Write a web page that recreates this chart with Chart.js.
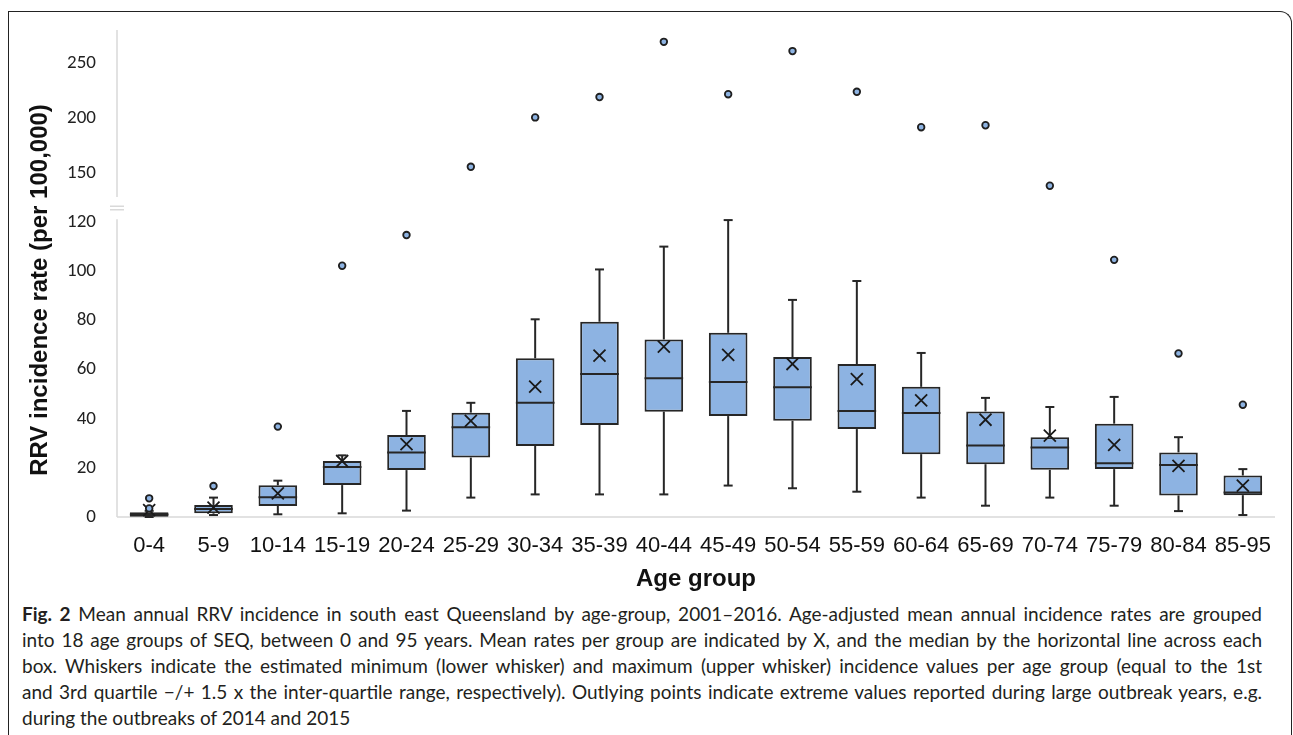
<!DOCTYPE html>
<html>
<head>
<meta charset="utf-8">
<script src="https://cdn.jsdelivr.net/npm/chart.js@4.4.1/dist/chart.umd.min.js"></script>
<style>
  html, body { margin: 0; padding: 0; background: #fff; }
  body { width: 1293px; height: 735px; position: relative; overflow: hidden; }
  #frame {
    position: absolute; left: 8px; top: 11px; width: 1284px; height: 760px;
    border: 1.5px solid #222; border-bottom: none; border-top-right-radius: 12px;
    box-sizing: border-box;
  }
  #wrap { position: absolute; left: 0; top: 0; width: 1293px; height: 600px; }
  #caption {
    position: absolute; left: 22px; top: 601px; width: 1240px;
    font-family: Lato, "Open Sans", sans-serif; font-size: 19px; line-height: 26px; color: #231f20;
  }
  #caption div { text-align: justify; text-align-last: justify; }
  #caption div.last { text-align-last: left; }
</style>
</head>
<body>
<div id="frame"></div>
<div id="wrap"><canvas id="boxChart"></canvas></div>
<div id="caption">
  <div><b>Fig. 2</b> Mean annual RRV incidence in south east Queensland by age-group, 2001–2016. Age-adjusted mean annual incidence rates are grouped</div>
  <div>into 18 age groups of SEQ, between 0 and 95 years. Mean rates per group are indicated by X, and the median by the horizontal line across each</div>
  <div>box. Whiskers indicate the estimated minimum (lower whisker) and maximum (upper whisker) incidence values per age group (equal to the 1st</div>
  <div>and 3rd quartile −/+ 1.5 x the inter-quartile range, respectively). Outlying points indicate extreme values reported during large outbreak years, e.g.</div>
  <div class="last">during the outbreaks of 2014 and 2015</div>
</div>
<script>
const ageGroups = ['0-4', '5-9', '10-14', '15-19', '20-24', '25-29', '30-34', '35-39', '40-44',
  '45-49', '50-54', '55-59', '60-64', '65-69', '70-74', '75-79', '80-84', '85-95'];
const q1 = [0.1, 1.5, 4.5, 13.0, 19.1, 24.2, 28.9, 37.5, 42.9, 41.1, 39.2, 35.8, 25.6, 21.5, 19.2, 19.5, 8.8, 8.9];
const q3 = [1.9, 4.9, 12.9, 22.8, 33.4, 42.5, 64.6, 79.5, 72.3, 75.0, 65.1, 62.3, 53.0, 43.0, 32.5, 38.0, 26.3, 16.9];
const medians = [1.0, 3.3, 8.0, 20.4, 26.3, 36.5, 46.5, 58.2, 56.5, 55.0, 52.8, 43.2, 42.3, 29.1, 28.3, 21.9, 21.2, 10.0];
const means = [2.8, 3.8, 9.6, 22.8, 29.7, 39.1, 53.1, 65.7, 69.4, 66.0, 62.3, 56.1, 47.5, 39.6, 33.1, 29.4, 20.8, 12.8];
const whiskerLow = [0, 0.8, 1.1, 1.5, 2.6, 7.9, 9.2, 9.2, 9.2, 12.8, 11.7, 10.3, 7.9, 4.6, 7.9, 4.6, 2.4, 0.8];
const whiskerHigh = [2.5, 7.9, 14.8, 25.1, 43.2, 46.5, 80.5, 100.8, 110.1, 120.9, 88.4, 96.1, 66.8, 48.5, 44.8, 48.9, 32.5, 19.5];
const outlierGroups = ['0-4', '0-4', '5-9', '10-14', '15-19', '20-24', '25-29', '30-34', '35-39', '40-44',
  '45-49', '50-54', '55-59', '60-64', '65-69', '70-74', '75-79', '80-84', '85-95'];
const outlierValues = [7.6, 3.5, 12.6, 36.8, 102.3, 114.8, 156, 200.9, 219.4, 269.6, 222, 261.2, 224.2, 192, 193.8, 138.8, 104.7, 66.6, 45.7];
const yTickValues = [0, 20, 40, 60, 80, 100, 120, 150, 200, 250];

// broken y axis: linear up to 120, squeezed above the break
const BREAK_AT = 125;
function toAxis(v) {
  return v <= BREAK_AT ? v : 139.9 + (v - 150) * 0.448;
}

const BOX_FILL = '#8DB3E2';
const INK = '#262626';

const boxExtras = {
  id: 'boxExtras',
  afterDatasetDraw(chart, args) {
    if (args.index !== 0) return;
    const { ctx, scales: { x, y } } = chart;
    const meta = chart.getDatasetMeta(0);
    ctx.save();
    ctx.strokeStyle = INK;
    ctx.lineWidth = 2;
    meta.data.forEach((bar, i) => {
      const cx = x.getPixelForValue(i);
      const half = bar.width / 2;
      const seg = (x1, y1, x2, y2) => { ctx.beginPath(); ctx.moveTo(x1, y1); ctx.lineTo(x2, y2); ctx.stroke(); };
      const yMed = y.getPixelForValue(toAxis(medians[i]));
      seg(cx - half, yMed, cx + half, yMed);
      const yQ3 = y.getPixelForValue(toAxis(q3[i]));
      const yQ1 = y.getPixelForValue(toAxis(q1[i]));
      const yHi = y.getPixelForValue(toAxis(whiskerHigh[i]));
      const yLo = y.getPixelForValue(toAxis(whiskerLow[i]));
      if (yHi < yQ3) { seg(cx, yQ3, cx, yHi); seg(cx - 4.5, yHi, cx + 4.5, yHi); }
      if (yLo > yQ1) { seg(cx, yQ1, cx, yLo); seg(cx - 4.5, yLo, cx + 4.5, yLo); }
    });
    ctx.restore();
  }
};

// axis lines with the break mark, plus both axis titles
const brokenAxis = {
  id: 'brokenAxis',
  beforeDatasetsDraw(chart) {
    const { ctx, chartArea, scales: { y } } = chart;
    const ax = chartArea.left;
    ctx.save();
    ctx.strokeStyle = '#d9d9d9';
    ctx.lineWidth = 1.5;
    ctx.beginPath();
    ctx.moveTo(ax, chartArea.top);
    ctx.lineTo(ax, y.getPixelForValue(130.3));
    ctx.moveTo(ax, y.getPixelForValue(121.2));
    ctx.lineTo(ax, chartArea.bottom);
    ctx.moveTo(ax, chartArea.bottom);
    ctx.lineTo(chartArea.right, chartArea.bottom);
    const mid = y.getPixelForValue(125.8);
    ctx.moveTo(ax - 7, mid - 1.8); ctx.lineTo(ax + 7, mid - 1.8);
    ctx.moveTo(ax - 7, mid + 1.8); ctx.lineTo(ax + 7, mid + 1.8);
    ctx.stroke();

    ctx.fillStyle = '#111';
    ctx.font = 'bold 24px "Liberation Sans", Arial, sans-serif';
    ctx.textAlign = 'center';
    ctx.textBaseline = 'middle';
    ctx.fillText('Age group', (chartArea.left + chartArea.right) / 2, 579);
    ctx.translate(40, 290);
    ctx.rotate(-Math.PI / 2);
    ctx.fillText('RRV incidence rate (per 100,000)', 0, 0);
    ctx.restore();
  }
};

new Chart(document.getElementById('boxChart'), {
  data: {
    labels: ageGroups,
    datasets: [
      {
        type: 'bar',
        label: 'IQR',
        data: ageGroups.map((g, i) => [q1[i], q3[i]]),
        backgroundColor: BOX_FILL,
        borderColor: INK,
        borderWidth: 2,
        borderSkipped: false,
        barPercentage: 0.6,
        categoryPercentage: 1,
        order: 3
      },
      {
        type: 'line',
        label: 'Mean',
        data: means.map(toAxis),
        showLine: false,
        pointStyle: 'crossRot',
        pointRadius: 8.5,
        pointBorderWidth: 1.8,
        pointBorderColor: '#1a1a1a',
        order: 1
      },
      {
        type: 'line',
        label: 'Outliers',
        data: outlierGroups.map((g, i) => ({ x: g, y: toAxis(outlierValues[i]) })),
        showLine: false,
        pointStyle: 'circle',
        pointRadius: 3.3,
        pointBorderWidth: 1.8,
        pointBackgroundColor: BOX_FILL,
        pointBorderColor: '#1f1f1f',
        order: 0
      }
    ]
  },
  options: {
    responsive: true,
    maintainAspectRatio: false,
    animation: false,
    layout: { padding: { top: 30, right: 18, left: 0, bottom: 0 } },
    plugins: {
      legend: { display: false },
      tooltip: { enabled: false }
    },
    scales: {
      x: {
        offset: true,
        grid: { display: false },
        border: { display: false },
        ticks: {
          color: '#111',
          padding: 8,
          maxRotation: 0,
          autoSkip: false,
          font: { family: '"Liberation Sans", Arial, sans-serif', size: 22 }
        },
        afterFit: (scale) => { scale.height = 83; }
      },
      y: {
        min: 0,
        max: 198.3,
        grid: { display: false },
        border: { display: false },
        afterBuildTicks: (scale) => {
          scale.ticks = yTickValues.map(v => ({ value: toAxis(v) }));
        },
        ticks: {
          color: '#222',
          padding: 13,
          font: { family: 'Carlito, Lato, sans-serif', size: 19 },
          callback: (value, index) => yTickValues[index]
        },
        afterFit: (scale) => { scale.width = 117; }
      }
    }
  },
  plugins: [brokenAxis, boxExtras]
});
</script>
</body>
</html>
